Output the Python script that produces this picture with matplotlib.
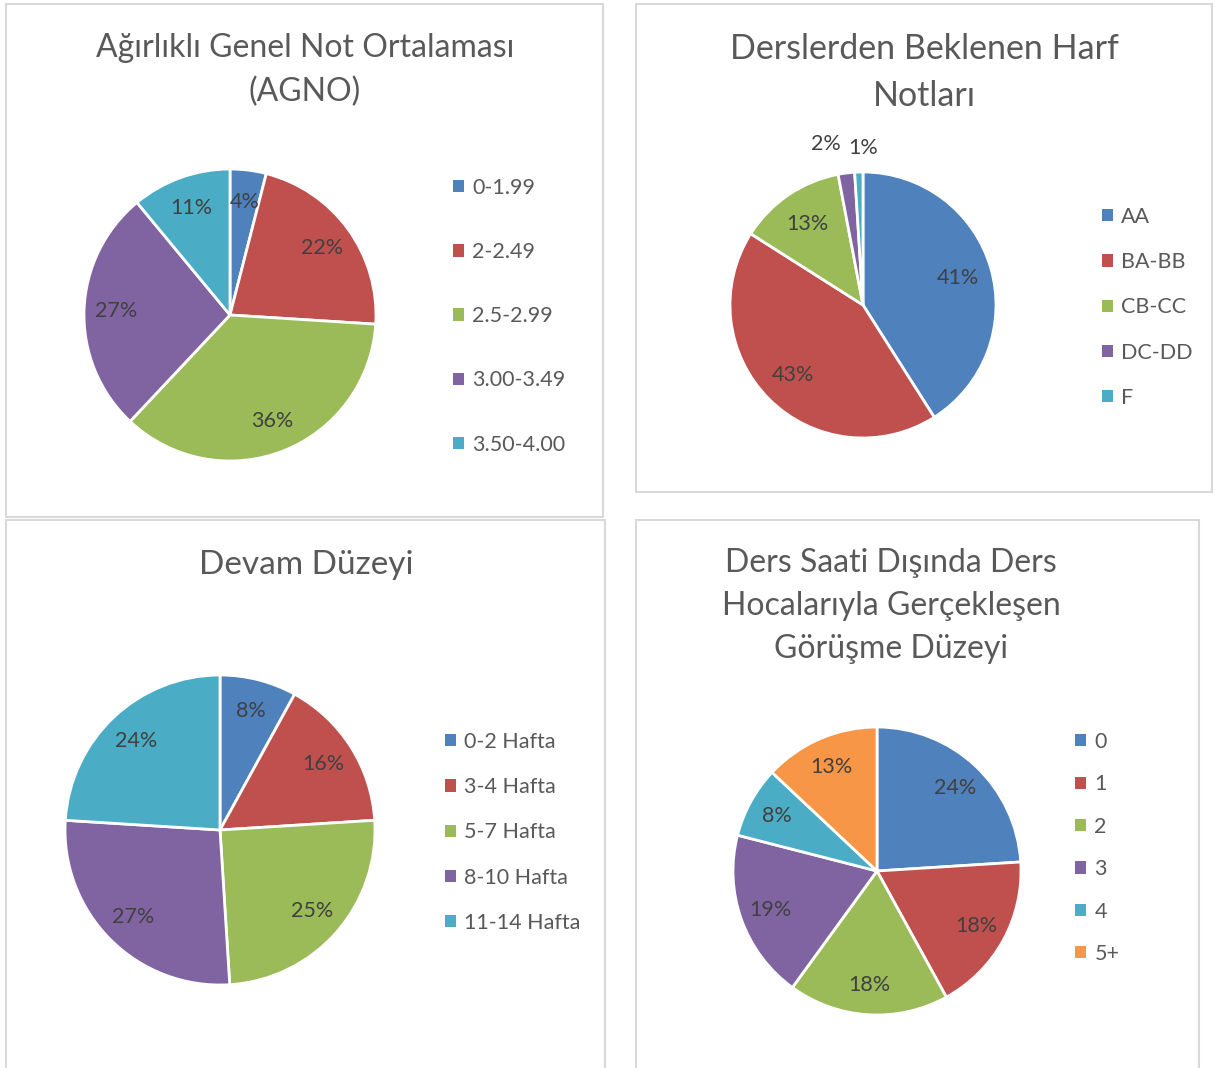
import matplotlib.pyplot as plt
from matplotlib.patches import Rectangle, Patch
import numpy as np

plt.rcParams['font.family'] = ['Lato', 'DejaVu Sans']

# chart data
agno_labels = ['0-1.99', '2-2.49', '2.5-2.99', '3.00-3.49', '3.50-4.00']
agno_values = [4, 22, 36, 27, 11]

harf_labels = ['AA', 'BA-BB', 'CB-CC', 'DC-DD', 'F']
harf_values = [41, 43, 13, 2, 1]

devam_labels = ['0-2 Hafta', '3-4 Hafta', '5-7 Hafta', '8-10 Hafta', '11-14 Hafta']
devam_values = [8, 16, 25, 27, 24]

gorusme_labels = ['0', '1', '2', '3', '4', '5+']
gorusme_values = [24, 18, 18, 19, 8, 13]

COLORS = ['#4F81BD', '#C0504D', '#9BBB59', '#8064A2', '#4BACC6', '#F79646']
TITLE_C = '#595959'
LABEL_C = '#404040'
BORDER_C = '#D9D9D9'

W, H = 1213, 1068
fig = plt.figure(figsize=(W / 100, H / 100), dpi=100, facecolor='white')


def fx(x):
    return x / W


def fy(y):
    return 1 - y / H


def box(x0, y0, x1, y1):
    fig.patches.append(Rectangle((fx(x0), fy(y1)), fx(x1) - fx(x0), fy(y0) - fy(y1),
                                 transform=fig.transFigure, fill=False,
                                 edgecolor=BORDER_C, linewidth=1.5))


def draw_pie(values, labels, cx, cy, r, pctdist, title, title_xy, title_fs,
             leg_xy, leg_space, title_ls=1.58, small_out=False):
    pad = 1.04
    ax = fig.add_axes([fx(cx - r * pad), fy(cy + r * pad), 2 * r * pad / W, 2 * r * pad / H])
    wedges, texts, autotexts = ax.pie(
        values, colors=COLORS[:len(values)], startangle=90, counterclock=False,
        autopct=lambda p: '%.0f%%' % p, pctdistance=pctdist,
        wedgeprops=dict(edgecolor='white', linewidth=2.0),
        textprops=dict(color=LABEL_C, fontsize=15.5))
    ax.set_xlim(-pad, pad)
    ax.set_ylim(-pad, pad)
    ax.set_axis_off()

    if small_out:
        # tiny slices get their labels pushed outside the pie
        for w, t, v in zip(wedges, autotexts, values):
            if v < 5:
                ang = np.deg2rad((w.theta1 + w.theta2) / 2)
                if np.cos(ang) < -0.1:
                    t.set_position((1.2 * np.cos(ang) - 0.02, 1.22 * np.sin(ang)))
                    t.set_ha('right')
                else:
                    t.set_position((1.2 * np.cos(ang) + 0.04, 1.18 * np.sin(ang)))
                    t.set_ha('center')

    fig.text(fx(title_xy[0]), fy(title_xy[1]), title, ha='center', va='top',
             fontsize=title_fs, color=TITLE_C, linespacing=title_ls)

    handles = [Patch(facecolor=c, edgecolor='none') for c in COLORS[:len(values)]]
    fig.legend(handles, labels, loc='upper left',
               bbox_to_anchor=(fx(leg_xy[0]), fy(leg_xy[1])),
               bbox_transform=fig.transFigure, frameon=False,
               fontsize=15.5, labelcolor=TITLE_C, handlelength=0.5,
               handleheight=0.5, handletextpad=0.4, labelspacing=leg_space,
               borderpad=0, borderaxespad=0)


# frames around each chart
box(6, 4, 603, 517)
box(636, 4, 1212, 492)
box(6, 520, 605, 1075)
box(636, 520, 1199, 1075)

draw_pie(agno_values, agno_labels, 230, 315, 146, 0.78,
         'Ağırlıklı Genel Not Ortalaması\n(AGNO)', (305, 33), 23, (453, 178), 2.05)

draw_pie(harf_values, harf_labels, 863, 305, 133, 0.74,
         'Derslerden Beklenen Harf\nNotları', (924, 33), 24.5, (1102, 207), 1.17,
         small_out=True)

draw_pie(devam_values, devam_labels, 220, 830, 155, 0.79,
         'Devam Düzeyi', (306, 550), 24, (445, 732), 1.17)

draw_pie(gorusme_values, gorusme_labels, 877, 871, 144, 0.79,
         'Ders Saati Dışında Ders\nHocalarıyla Gerçekleşen\nGörüşme Düzeyi',
         (891, 548), 23, (1075, 732), 1.04, title_ls=1.54)

fig.savefig('out.png', dpi=100, facecolor='white')
